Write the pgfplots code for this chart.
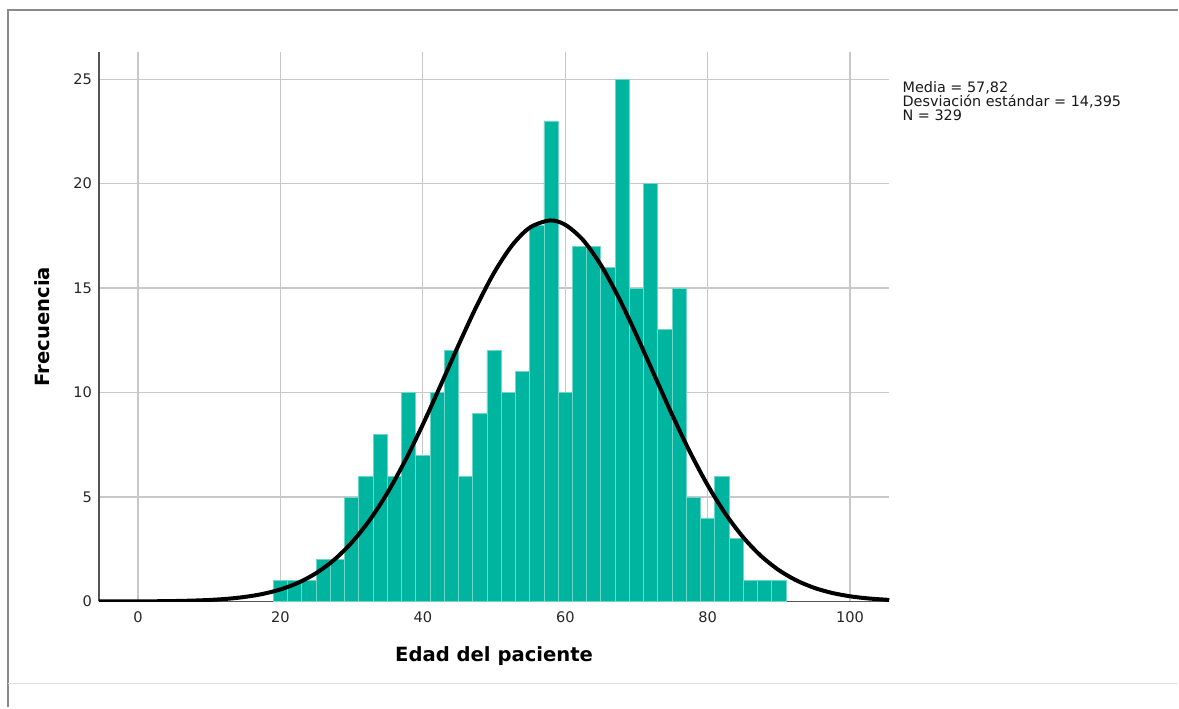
\documentclass[border=0pt]{standalone}
\usepackage{fontspec}
\setmainfont{DejaVu Sans}
\usepackage{pgfplots}
\pgfplotsset{compat=1.18}
\definecolor{barteal}{HTML}{00B5A0}
\definecolor{baredge}{HTML}{70D6C8}
\definecolor{gridgray}{HTML}{C8C8C8}
\definecolor{axgray}{HTML}{555555}
\definecolor{framegray}{HTML}{8A8A8A}

\begin{document}
\begin{tikzpicture}
  % page frame of the output viewer
  \path (0,0) rectangle (589.5pt,354pt);
  \draw[framegray, line width=1pt] (4pt,0) -- (4pt,349pt) -- (589.5pt,349pt);
  \draw[black!12, line width=0.8pt] (4pt,12pt) -- (589.5pt,12pt);

  \begin{axis}[
    at={(49.5pt,53pt)}, anchor=south west,
    scale only axis, width=395.5pt, height=275pt,
    xmin=-5.5, xmax=105.5, ymin=0, ymax=26.3,
    axis x line=bottom, axis y line=left,
    axis line style={axgray, line width=0.8pt, -},
    xtick={0,20,...,100}, ytick={0,5,...,25},
    major tick length=0pt,
    grid=major, grid style={gridgray, line width=0.6pt},
    tick label style={font=\fontsize{7.3}{8}\selectfont, black!85},
    /pgf/number format/assume math mode=true,
    xticklabel style={yshift=-1.5pt},
    xlabel={Edad del paciente}, ylabel={Frecuencia},
    label style={font=\fontsize{9.8}{11}\selectfont\bfseries},
    xlabel style={at={(axis description cs:0.5,-0.1)}, anchor=center},
    ylabel style={at={(axis description cs:-0.072,0.5)}, anchor=center},
  ]
    % histogram, bin width 2 (left edges; last point closes the interval)
    \addplot[ybar interval, fill=barteal, draw=baredge, line width=0.4pt]
      coordinates {
        (19,1) (21,1) (23,1) (25,2) (27,2) (29,5) (31,6) (33,8) (35,6)
        (37,10) (39,7) (41,10) (43,12) (45,6) (47,9) (49,12) (51,10)
        (53,11) (55,18) (57,23) (59,10) (61,17) (63,17) (65,16) (67,25)
        (69,15) (71,20) (73,13) (75,15) (77,5) (79,4) (81,6) (83,3)
        (85,1) (87,1) (89,1) (91,1)
      };
    % fitted normal curve
    \addplot[black, line width=2pt, smooth, no marks]
      coordinates {
        (-5.5,0.001) (-2.5,0.003) (0,0.006) (2.5,0.011) (5,0.022)
        (7.5,0.041) (10,0.073) (12.5,0.128) (15,0.219) (17.5,0.361)
        (20,0.578) (22.5,0.899) (25,1.356) (27.5,1.984) (30,2.818)
        (32.5,3.883) (35,5.191) (37.5,6.733) (40,8.475) (42.5,10.351)
        (45,12.266) (47.5,14.103) (50,15.734) (52.5,17.032) (55,17.889)
        (57.82,18.236) (60,18.028) (62.5,17.297) (65,16.103) (67.5,14.546)
        (70,12.749) (72.5,10.842) (75,8.946) (77.5,7.162) (80,5.564)
        (82.5,4.194) (85,3.067) (87.5,2.176) (90,1.499) (92.5,1.002)
        (95,0.649) (97.5,0.408) (100,0.249) (102.5,0.148) (105.5,0.075)
      };
  \end{axis}

  \node[anchor=north west, inner sep=0pt, align=left,
        font=\fontsize{7.2}{7}\selectfont, black!90]
    at (451.5pt,313.5pt)
    {Media = 57,82\\Desviación estándar = 14,395\\N = 329};
\end{tikzpicture}
\end{document}
